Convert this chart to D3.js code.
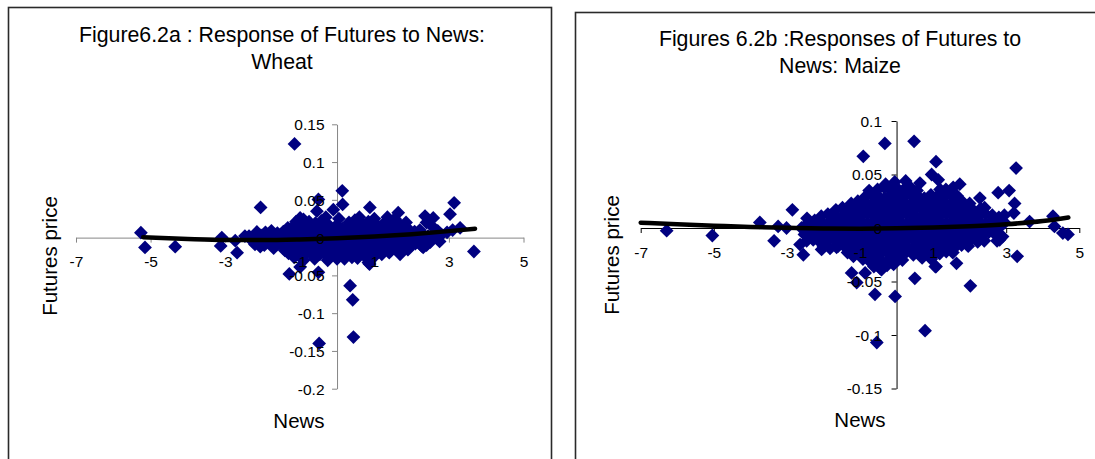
<!DOCTYPE html>
<html><head><meta charset="utf-8">
<script src="https://cdn.jsdelivr.net/npm/d3@7"></script>
<style>body{margin:0;background:#fff}svg{display:block}text{font-family:"Liberation Sans",Arial,sans-serif}</style>
</head><body><svg id="c" width="1095" height="459"></svg>
<script>
// ---------------- data ----------------
const xTicks = [-7, -5, -3, -1, 1, 3, 5];
const wheatYTicks = [0.15, 0.1, 0.05, 0, -0.05, -0.1, -0.15, -0.2];
const maizeYTicks = [0.1, 0.05, 0, -0.05, -0.1, -0.15];

const wheatTitle = ["Figure6.2a : Response of Futures to News:", "Wheat"];
const maizeTitle = ["Figures 6.2b :Responses of Futures to", "News: Maize"];
const xTitle = "News";
const yTitle = "Futures price";

// [news, futures price]
const wheatPoints = [
[-0.75,0.021],[-0.58,0.019],[-0.42,0.022],[-0.25,0.018],[0.32,0.020],[0.48,0.023],[0.66,0.019],[0.84,0.021],[1.05,0.018],[1.3,0.021],[1.52,0.019],[1.7,0.017],
[-0.9,0.024],[-0.3,0.027],[0.05,0.025],[0.6,0.027],[1.0,0.025],[1.35,0.027],[1.55,0.025],[-1.1,0.021],[1.85,0.02],
[-1.32,0.013],[-1.16,0.015],[-1.0,0.013],[-0.83,0.016],[-0.67,0.014],[-0.5,0.012],[-0.33,0.015],[-0.18,0.013],[-0.02,0.016],[0.14,0.012],[0.3,0.014],[0.45,0.016],[0.6,0.013],[0.76,0.015],[0.92,0.012],[1.08,0.014],[1.24,0.016],[1.4,0.013],[1.56,0.015],[1.72,0.012],[1.86,0.014],
[-1.92,0.007],[-1.76,0.009],[-1.6,0.006],[-1.44,0.008],[-1.28,0.010],[-1.12,0.007],[-0.96,0.009],[-0.8,0.006],[-0.64,0.008],[-0.48,0.009],[-0.32,0.007],[-0.16,0.008],[0.0,0.006],[0.16,0.009],[0.32,0.007],[0.48,0.008],[0.64,0.010],[0.8,0.007],[0.96,0.009],[1.12,0.006],[1.28,0.008],[1.44,0.010],[1.6,0.007],[1.76,0.009],[1.92,0.006],[2.08,0.008],[2.22,0.010],
[-2.36,0.002],[-2.2,0.001],[-2.04,0.003],[-1.88,0.001],[-1.72,0.002],[-1.56,0.000],[-1.4,0.003],[-1.24,0.001],[-1.08,0.002],[-0.92,0.000],[-0.76,0.003],[-0.6,0.001],[-0.44,0.002],[-0.28,0.004],[-0.12,0.001],[0.04,0.002],[0.2,0.000],[0.36,0.003],[0.52,0.001],[0.68,0.002],[0.84,0.004],[1.0,0.001],[1.16,0.002],[1.32,0.000],[1.48,0.003],[1.64,0.001],[1.8,0.002],[1.96,0.000],[2.12,0.003],[2.28,0.001],[2.44,0.002],
[-2.28,-0.004],[-2.12,-0.005],[-1.96,-0.003],[-1.8,-0.005],[-1.64,-0.004],[-1.48,-0.006],[-1.32,-0.003],[-1.16,-0.005],[-1.0,-0.004],[-0.84,-0.006],[-0.68,-0.003],[-0.52,-0.005],[-0.36,-0.004],[-0.2,-0.006],[-0.04,-0.003],[0.12,-0.005],[0.28,-0.004],[0.44,-0.006],[0.6,-0.003],[0.76,-0.005],[0.92,-0.004],[1.08,-0.006],[1.24,-0.003],[1.4,-0.005],[1.56,-0.004],[1.72,-0.006],[1.88,-0.003],[2.04,-0.005],[2.2,-0.004],[2.36,-0.006],
[-1.62,-0.009],[-1.46,-0.011],[-1.3,-0.010],[-1.14,-0.012],[-0.98,-0.009],[-0.82,-0.011],[-0.66,-0.010],[-0.5,-0.012],[-0.34,-0.009],[-0.18,-0.011],[-0.02,-0.010],[0.14,-0.012],[0.3,-0.009],[0.46,-0.011],[0.62,-0.010],[0.78,-0.012],[0.94,-0.009],[1.1,-0.011],[1.26,-0.010],[1.42,-0.012],[1.58,-0.009],[1.72,-0.011],
[-1.12,-0.015],[-0.96,-0.017],[-0.8,-0.016],[-0.64,-0.018],[-0.48,-0.015],[-0.32,-0.017],[-0.16,-0.016],[0.0,-0.018],[0.16,-0.015],[0.32,-0.017],[0.48,-0.016],[0.64,-0.018],[0.8,-0.015],[0.96,-0.017],[1.12,-0.016],[1.28,-0.015],
[-0.82,-0.021],[-0.64,-0.023],[-0.46,-0.022],[-0.28,-0.024],[-0.1,-0.021],[0.08,-0.023],[0.26,-0.022],[0.44,-0.020],[0.62,-0.021],[0.8,-0.019],
[-0.6,-0.028],[0.0,-0.028],[0.4,-0.026],[0.75,-0.025],[1.2,-0.022],[-1.4,-0.017],[-1.7,-0.014],[1.6,-0.015],[2.1,-0.008],
[-1.3,-0.021],[-1.0,-0.022],[-1.15,-0.026],[-0.9,-0.03],[-0.25,-0.03],[0.2,-0.028],[0.55,-0.027],[1.0,-0.025],[1.4,-0.02],[1.9,-0.016],[2.0,-0.01],[-1.95,-0.01],[-2.2,-0.009],
[2.4,0.02],[2.55,0.015],[2.7,0.009],[2.6,0.003],[2.8,0.004],[2.95,0.007],[3.1,0.01],[2.5,-0.006],[2.75,-0.005],[2.4,-0.01],
[-1.14,0.124],[-5.26,0.0066],[-5.15,-0.013],[-4.34,-0.012],[-3.09,0.0],[-3.12,-0.011],[-2.68,-0.020],[-2.73,-0.004],[-2.47,0.002],[-2.05,0.040],[-2.15,0.0075],[-2.06,-0.012],
[-0.5,0.0505],[0.14,0.062],[0.88,0.040],[1.64,0.033],[2.36,0.0285],[2.58,0.026],[3.14,0.046],[3.03,0.031],[3.30,0.013],[3.67,-0.0184],[1.69,-0.022],[0.87,-0.035],[2.27,-0.011],
[0.15,0.044],[-0.1,0.037],[-0.54,0.035],[-0.99,0.026],[-1.28,-0.048],[-0.99,-0.039],[-0.5,-0.046],[0.35,-0.0636],[0.42,-0.0824],[0.44,-0.1316],[-0.48,-0.140],[0.84,-0.033],[2.31,-0.013]
];

const maizePoints = [
[-0.52,0.036],[-0.34,0.038],[-0.16,0.035],[0.02,0.037],[0.2,0.036],[0.38,0.038],[0.56,0.035],[1.35,0.036],[1.55,0.038],[-0.75,0.035],
[-0.86,0.029],[-0.68,0.031],[-0.5,0.030],[-0.32,0.028],[-0.14,0.031],[0.04,0.030],[0.22,0.029],[0.4,0.031],[0.58,0.030],[0.76,0.028],[0.94,0.031],[1.12,0.030],[1.3,0.029],[1.48,0.031],[1.66,0.030],
[-1.24,0.023],[-1.06,0.025],[-0.88,0.024],[-0.7,0.022],[-0.52,0.025],[-0.34,0.024],[-0.16,0.023],[0.02,0.025],[0.2,0.024],[0.38,0.022],[0.56,0.025],[0.74,0.024],[0.92,0.023],[1.1,0.025],[1.28,0.024],[1.46,0.022],[1.64,0.025],[1.82,0.024],[2.0,0.023],
[-1.66,0.017],[-1.48,0.019],[-1.3,0.018],[-1.12,0.016],[-0.94,0.019],[-0.76,0.018],[-0.58,0.017],[-0.4,0.019],[-0.22,0.018],[-0.04,0.016],[0.14,0.019],[0.32,0.018],[0.5,0.017],[0.68,0.019],[0.86,0.018],[1.04,0.016],[1.22,0.019],[1.4,0.018],[1.58,0.017],[1.76,0.019],[1.94,0.018],[2.12,0.016],[2.3,0.018],
[-2.06,0.011],[-1.88,0.013],[-1.7,0.012],[-1.52,0.010],[-1.34,0.013],[-1.16,0.012],[-0.98,0.011],[-0.8,0.013],[-0.62,0.012],[-0.44,0.010],[-0.26,0.013],[-0.08,0.012],[0.1,0.011],[0.28,0.013],[0.46,0.012],[0.64,0.010],[0.82,0.013],[1.0,0.012],[1.18,0.011],[1.36,0.013],[1.54,0.012],[1.72,0.010],[1.9,0.013],[2.08,0.012],[2.26,0.011],[2.44,0.013],[2.62,0.012],[2.8,0.010],
[-2.42,0.005],[-2.24,0.007],[-2.06,0.006],[-1.88,0.004],[-1.7,0.007],[-1.52,0.006],[-1.34,0.005],[-1.16,0.007],[-0.98,0.006],[-0.8,0.004],[-0.62,0.007],[-0.44,0.006],[-0.26,0.005],[-0.08,0.007],[0.1,0.006],[0.28,0.004],[0.46,0.007],[0.64,0.006],[0.82,0.005],[1.0,0.007],[1.18,0.006],[1.36,0.004],[1.54,0.007],[1.72,0.006],[1.9,0.005],[2.08,0.007],[2.26,0.006],[2.44,0.004],[2.62,0.007],[2.8,0.006],[2.96,0.005],
[-2.6,0.0],[-2.42,-0.001],[-2.24,0.001],[-2.06,0.0],[-1.88,-0.002],[-1.7,0.001],[-1.52,0.0],[-1.34,-0.001],[-1.16,0.001],[-0.98,0.0],[-0.8,-0.002],[-0.62,0.001],[-0.44,0.0],[-0.26,-0.001],[-0.08,0.001],[0.1,0.0],[0.28,-0.002],[0.46,0.001],[0.64,0.0],[0.82,-0.001],[1.0,0.001],[1.18,0.0],[1.36,-0.002],[1.54,0.001],[1.72,0.0],[1.9,-0.001],[2.08,0.001],[2.26,0.0],[2.44,-0.002],[2.62,0.001],[2.8,0.0],
[-2.52,-0.006],[-2.34,-0.005],[-2.16,-0.007],[-1.98,-0.006],[-1.8,-0.004],[-1.62,-0.007],[-1.44,-0.006],[-1.26,-0.005],[-1.08,-0.007],[-0.9,-0.006],[-0.72,-0.004],[-0.54,-0.007],[-0.36,-0.006],[-0.18,-0.005],[0.0,-0.007],[0.18,-0.006],[0.36,-0.004],[0.54,-0.007],[0.72,-0.006],[0.9,-0.005],[1.08,-0.007],[1.26,-0.006],[1.44,-0.004],[1.62,-0.007],[1.8,-0.006],[1.98,-0.005],[2.16,-0.007],[2.34,-0.006],[2.52,-0.004],[2.7,-0.006],
[-2.46,-0.012],[-2.28,-0.011],[-2.1,-0.013],[-1.92,-0.012],[-1.74,-0.010],[-1.56,-0.013],[-1.38,-0.012],[-1.2,-0.011],[-1.02,-0.013],[-0.84,-0.012],[-0.66,-0.010],[-0.48,-0.013],[-0.3,-0.012],[-0.12,-0.011],[0.06,-0.013],[0.24,-0.012],[0.42,-0.010],[0.6,-0.013],[0.78,-0.012],[0.96,-0.011],[1.14,-0.013],[1.32,-0.012],[1.5,-0.010],[1.68,-0.013],[1.86,-0.012],[2.04,-0.011],[2.22,-0.013],[2.4,-0.012],
[-2.0,-0.017],[-1.82,-0.019],[-1.64,-0.018],[-1.46,-0.016],[-1.28,-0.019],[-1.1,-0.018],[-0.92,-0.017],[-0.74,-0.019],[-0.56,-0.018],[-0.38,-0.016],[-0.2,-0.019],[-0.02,-0.018],[0.16,-0.017],[0.34,-0.019],[0.52,-0.018],[0.7,-0.016],[0.88,-0.019],[1.06,-0.018],[1.24,-0.017],[1.42,-0.019],[1.6,-0.018],[1.78,-0.016],[1.96,-0.017],
[-1.34,-0.023],[-1.16,-0.025],[-0.98,-0.024],[-0.8,-0.022],[-0.62,-0.025],[-0.44,-0.024],[-0.26,-0.023],[-0.08,-0.025],[0.1,-0.024],[0.28,-0.022],[0.46,-0.025],[0.64,-0.024],[0.82,-0.023],[1.0,-0.025],[1.18,-0.024],[1.36,-0.022],[1.54,-0.023],
[-0.92,-0.029],[-0.74,-0.031],[-0.56,-0.030],[-0.38,-0.032],[-0.2,-0.029],[-0.02,-0.031],[0.16,-0.030],[0.7,-0.028],[0.95,-0.029],
[-0.62,-0.036],[-0.44,-0.038],[-0.26,-0.035],[-0.08,-0.034],
[-2.45,0.009],[2.95,0.012],[2.9,-0.008],[2.75,-0.012],[1.73,0.041],[0.64,0.042],[-0.05,0.043],[0.25,0.044],[-0.3,0.041],[1.19,0.036],
[-0.32,0.079],[0.48,0.081],[-0.91,0.067],[1.08,0.062],[0.96,0.050],[1.14,0.045],[3.27,0.056],[2.78,0.033],[3.08,0.035],[3.23,0.023],[3.21,0.014],[3.64,0.006],
[4.28,0.011],[4.32,0.0015],[4.55,-0.0047],[4.69,-0.006],[3.30,-0.0265],[2.82,-0.011],[2.28,0.028],[2.41,0.019],[1.64,-0.033],[1.06,-0.036],
[-6.29,-0.0025],[-5.04,-0.007],[-3.74,0.0052],[-3.35,-0.012],[-3.24,0.0015],[-2.85,0.017],[-3.01,0.0],[-2.64,-0.0155],[-2.55,-0.025],[-2.05,-0.02],[-1.60,-0.017],[-1.18,-0.0265],
[-0.86,-0.042],[-0.41,-0.039],[-1.09,-0.051],[-0.59,-0.062],[-0.04,-0.064],[0.50,-0.047],[1.08,-0.036],[2.02,-0.054],[-0.54,-0.107],[0.78,-0.096],[-1.23,-0.042]
];

// polynomial trendlines
const wheatTrend = [[-5.2,0.0005],[-4,-0.0018],[-3,-0.0031],[-2,-0.0033],[-1,-0.0025],[0,-0.001],[1,0.0014],[2,0.0046],[3,0.0086],[3.7,0.0118]];
const maizeTrend = [[-7,0.0050],[-6,0.0035],[-5,0.0022],[-4,0.0010],[-3,0.0002],[-2,-0.0004],[-1,-0.0006],[0,-0.0003],[1,0.0005],[2,0.0017],[3,0.0035],[4,0.0065],[4.7,0.0098]];

// ---------------- drawing ----------------
const svg = d3.select("#c");
const FONT = '"Liberation Sans",Arial,sans-serif';

function panel(cfg) {
  const g = svg.append("g");
  g.append("rect").attr("x", cfg.frame[0]).attr("y", cfg.frame[1])
    .attr("width", cfg.frame[2]).attr("height", cfg.frame[3])
    .attr("fill", "#fff").attr("stroke", "#2a2a2a").attr("stroke-width", 1.6);

  const x = d3.scaleLinear().domain([-7, 5]).range(cfg.xr);
  const y = d3.scaleLinear().domain(cfg.yd).range(cfg.yr);
  const fmt = d => String(d);

  const xAxis = d3.axisBottom(x).tickValues(xTicks).tickFormat(fmt).tickSize(5).tickSizeOuter(0);
  const yAxis = d3.axisLeft(y).tickValues(cfg.yTicks).tickFormat(fmt).tickSize(5).tickSizeOuter(0);

  // axis lines (below points)
  const ax = g.append("g").attr("transform", `translate(0,${y(0)})`).call(xAxis);
  const ay = g.append("g").attr("transform", `translate(${x(0)},0)`).call(yAxis);
  [ax, ay].forEach(a => {
    a.selectAll("text").remove();
    a.selectAll("path,line").attr("stroke", cfg.axisColor).attr("stroke-width", 1);
  });

  // points
  g.append("g").selectAll("path").data(cfg.points).join("path")
    .attr("d", d3.symbol(d3.symbolSquare, 95))
    .attr("transform", d => `translate(${x(d[0])},${y(d[1])}) rotate(45)`)
    .attr("fill", "#000080");

  // tick labels (above points)
  const lx = g.append("g").attr("transform", `translate(0,${y(0)})`).call(xAxis);
  const ly = g.append("g").attr("transform", `translate(${x(0)},0)`).call(yAxis);
  [lx, ly].forEach(a => {
    a.selectAll("path,line").remove();
    a.selectAll("text").attr("fill", "#000").style("font-family", FONT).style("font-size", "15.5px");
  });
  lx.selectAll("text").attr("y", 29.5).attr("dy", null);
  ly.selectAll("text").attr("x", -cfg.yLabGap).attr("dy", "0.35em");

  // trendline
  g.append("path").datum(cfg.trend)
    .attr("d", d3.line().x(d => x(d[0])).y(d => y(d[1])).curve(d3.curveMonotoneX))
    .attr("fill", "none").attr("stroke", "#000").attr("stroke-width", 4.5).attr("stroke-linecap", "round");

  // titles
  const t = g.append("text").attr("text-anchor", "middle").style("font-size", "21.3px").attr("fill", "#000");
  cfg.title.forEach((s, i) => t.append("tspan").attr("x", cfg.titleX).attr("y", cfg.titleY[i]).text(s));
  g.append("text").attr("text-anchor", "middle").style("font-size", "20.5px")
    .attr("x", cfg.xTitlePos[0]).attr("y", cfg.xTitlePos[1]).text(xTitle);
  g.append("text").attr("text-anchor", "middle").style("font-size", "20.5px")
    .attr("transform", `translate(${cfg.yTitlePos[0]},${cfg.yTitlePos[1]}) rotate(-90)`).text(yTitle);
}

panel({
  frame: [8.5, 7.5, 543, 470], xr: [76, 523.5], yd: [-0.2, 0.15], yr: [388.7, 124.3],
  yTicks: wheatYTicks, points: wheatPoints, trend: wheatTrend, axisColor: "#868686", yLabGap: 12.5,
  title: wheatTitle, titleX: 282, titleY: [41.5, 69], xTitlePos: [299, 428], yTitlePos: [57, 256]
});
panel({
  frame: [575.5, 12.5, 600, 470], xr: [640.7, 1079.3], yd: [-0.15, 0.1], yr: [388.5, 121],
  yTicks: maizeYTicks, points: maizePoints, trend: maizeTrend, axisColor: "#000", yLabGap: 14.5,
  title: maizeTitle, titleX: 840, titleY: [46, 73], xTitlePos: [860, 427], yTitlePos: [619, 255]
});
</script></body></html>
